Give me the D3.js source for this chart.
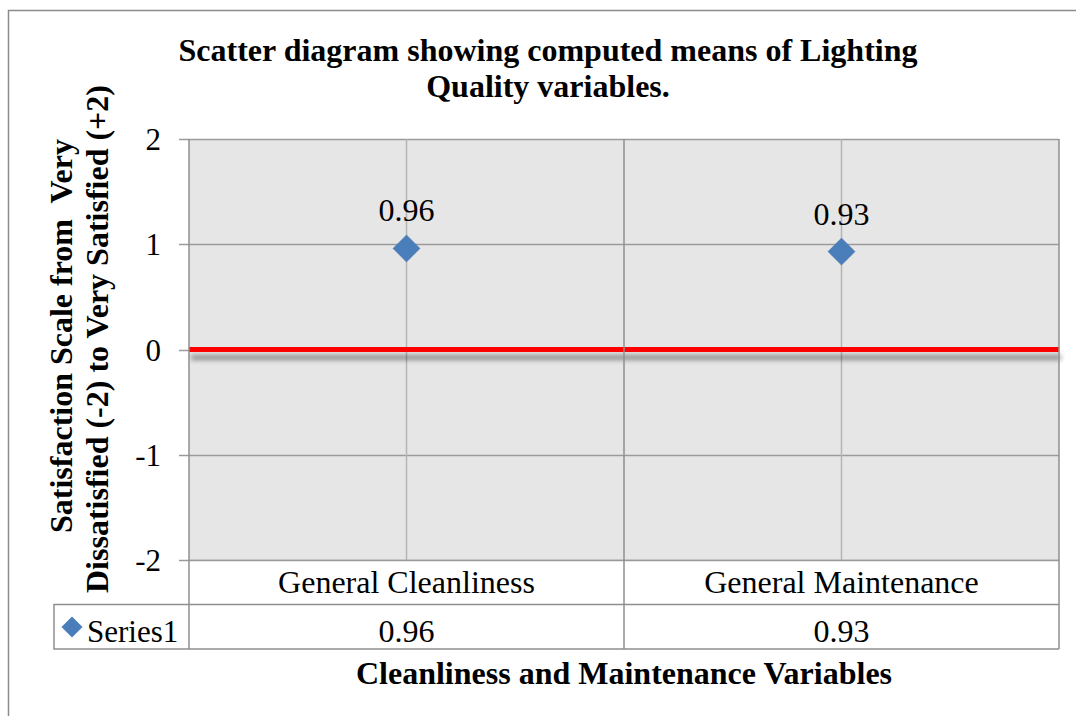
<!DOCTYPE html>
<html>
<head>
<meta charset="utf-8">
<script src="https://cdn.jsdelivr.net/npm/d3@7"></script>
<style>
html,body{margin:0;padding:0;background:#fff;}
svg{display:block;}
text{font-family:"Liberation Serif","Times New Roman",serif;fill:#000;white-space:pre;}
</style>
</head>
<body>
<svg id="chart" width="1076" height="716"></svg>
<script>
const categories = ["General Cleanliness", "General Maintenance"];
const values = [0.96, 0.93];
const valueLabels = ["0.96", "0.93"];
const seriesName = "Series1";
const yTicks = [2, 1, 0, -1, -2];
const refValue = 0;
const titleLines = ["Scatter diagram showing computed means of Lighting", "Quality variables."];
const yTitleLines = ["Satisfaction Scale from  Very", "Dissatisfied (-2) to Very Satisfied (+2)"];
const xTitle = "Cleanliness and Maintenance Variables";

(function(){
const svg = d3.select("#chart");
const W = 1076, H = 716;
const pL = 189, pR = 1059, pT = 139, pB = 560;
const rowH = 44.5;
const FS = 32;

// outer chart border (only left and top visible)
svg.append("path").attr("d", `M8.5,${H} L8.5,10.5 L${W},10.5`).attr("fill","none").attr("stroke","#8c8c8c").attr("stroke-width",1.5);

const x = d3.scaleBand().domain(categories).range([pL, pR]).paddingInner(0).paddingOuter(0);
const y = d3.scaleLinear().domain([-2, 2]).range([pB, pT]);

const defs = svg.append("defs");
const f = defs.append("filter").attr("id","shadow").attr("filterUnits","userSpaceOnUse")
  .attr("x",pL-10).attr("y",y(refValue)-20).attr("width",pR-pL+30).attr("height",40);
f.append("feGaussianBlur").attr("in","SourceAlpha").attr("stdDeviation",2.4).attr("result","b");
f.append("feOffset").attr("in","b").attr("dx",2).attr("dy",8).attr("result","o");
f.append("feComponentTransfer").attr("in","o").attr("result","oc").append("feFuncA").attr("type","linear").attr("slope",0.4);
const m = f.append("feMerge"); m.append("feMergeNode").attr("in","oc"); m.append("feMergeNode").attr("in","SourceGraphic");

// plot area
svg.append("rect").attr("x",pL).attr("y",pT).attr("width",pR-pL).attr("height",pB-pT).attr("fill","#e6e6e6");

// horizontal gridlines + ticks
svg.append("g").selectAll("line").data(yTicks).join("line")
  .attr("x1",pL-10).attr("x2",pR).attr("y1",d=>Math.round(y(d))+0.5).attr("y2",d=>Math.round(y(d))+0.5)
  .attr("stroke","#9a9a9a").attr("stroke-width",1.5);

// vertical gridlines at category centres
svg.append("g").selectAll("line").data(categories).join("line")
  .attr("x1",d=>x(d)+x.bandwidth()/2).attr("x2",d=>x(d)+x.bandwidth()/2)
  .attr("y1",pT).attr("y2",pB).attr("stroke","#b5b5b5").attr("stroke-width",1.5);

// y tick labels
svg.append("g").selectAll("text").data(yTicks).join("text")
  .attr("x",161).attr("y",d=>y(d)+11).attr("text-anchor","end").attr("font-size",31).text(d=>d);

// reference line at 0
svg.append("line").attr("x1",pL).attr("x2",pR).attr("y1",y(refValue)).attr("y2",y(refValue))
  .attr("stroke","#ff0000").attr("stroke-width",5).attr("filter","url(#shadow)");

// table
const seps = [pL].concat(categories.map(c=>x(c)+x.bandwidth()));
const tbl = svg.append("g");
tbl.append("rect").attr("x",pL).attr("y",pB).attr("width",pR-pL).attr("height",rowH).attr("fill","#fff");
tbl.append("rect").attr("x",54).attr("y",pB+rowH).attr("width",pR-54).attr("height",rowH).attr("fill","#fff");
tbl.append("path").attr("d",`M${pL},${pB+rowH} L54,${pB+rowH} L54,${pB+2*rowH} L${pR},${pB+2*rowH} M${pL},${pB+rowH} L${pR},${pB+rowH}`)
  .attr("fill","none").attr("stroke","#8f8f8f").attr("stroke-width",1.5);
tbl.append("line").attr("x1",pL).attr("x2",pR).attr("y1",pB+0.5).attr("y2",pB+0.5).attr("stroke","#9a9a9a").attr("stroke-width",1.5);

// category separators (plot + table)
svg.append("g").selectAll("line").data(seps).join("line")
  .attr("x1",d=>d).attr("x2",d=>d).attr("y1",pT).attr("y2",pB+2*rowH)
  .attr("stroke","#8f8f8f").attr("stroke-width",1.5);

tbl.selectAll("text.cat").data(categories).join("text").attr("class","cat")
  .attr("x",d=>x(d)+x.bandwidth()/2).attr("y",pB+33).attr("text-anchor","middle").attr("font-size",FS).text(d=>d);
const data = categories.map((c,i)=>({c, v:values[i], l:valueLabels[i]}));
tbl.selectAll("text.val").data(data).join("text").attr("class","val")
  .attr("x",d=>x(d.c)+x.bandwidth()/2).attr("y",pB+rowH+37).attr("text-anchor","middle").attr("font-size",FS).text(d=>d.l);
const lx=72, ly=pB+rowH+22.5, ls=10.5;
tbl.append("path").attr("d",`M${lx},${ly-ls} L${lx+ls},${ly} L${lx},${ly+ls} L${lx-ls},${ly} Z`).attr("fill","#4a7ebb");
tbl.append("text").attr("x",87).attr("y",pB+rowH+37).attr("font-size",31).text(seriesName);

// markers
const ds = 13.5;
svg.append("g").selectAll("path").data(data).join("path")
  .attr("d",d=>{const cx=x(d.c)+x.bandwidth()/2, cy=y(d.v); return `M${cx},${cy-ds} L${cx+ds},${cy} L${cx},${cy+ds} L${cx-ds},${cy} Z`;})
  .attr("fill","#4a7ebb").attr("stroke","#4474ad").attr("stroke-width",0.5);

// data labels
svg.append("g").selectAll("text").data(data).join("text")
  .attr("x",d=>x(d.c)+x.bandwidth()/2).attr("y",d=>y(d.v)-27).attr("text-anchor","middle").attr("font-size",FS).text(d=>d.l);

// title
svg.append("g").selectAll("text").data(titleLines).join("text")
  .attr("x",548).attr("y",(d,i)=>61+i*36).attr("text-anchor","middle").attr("font-size",FS).attr("font-weight","bold").text(d=>d);

// y axis title
svg.append("g").selectAll("text").data(yTitleLines).join("text")
  .attr("transform",(d,i)=>`translate(${72+i*36},${i===0?336:339}) rotate(-90)`).attr("text-anchor","middle")
  .attr("font-size",FS).attr("font-weight","bold").text(d=>d);

// x axis title
svg.append("text").attr("x",624).attr("y",684).attr("text-anchor","middle").attr("font-size",FS).attr("font-weight","bold").text(xTitle);
})();
</script>
</body>
</html>
